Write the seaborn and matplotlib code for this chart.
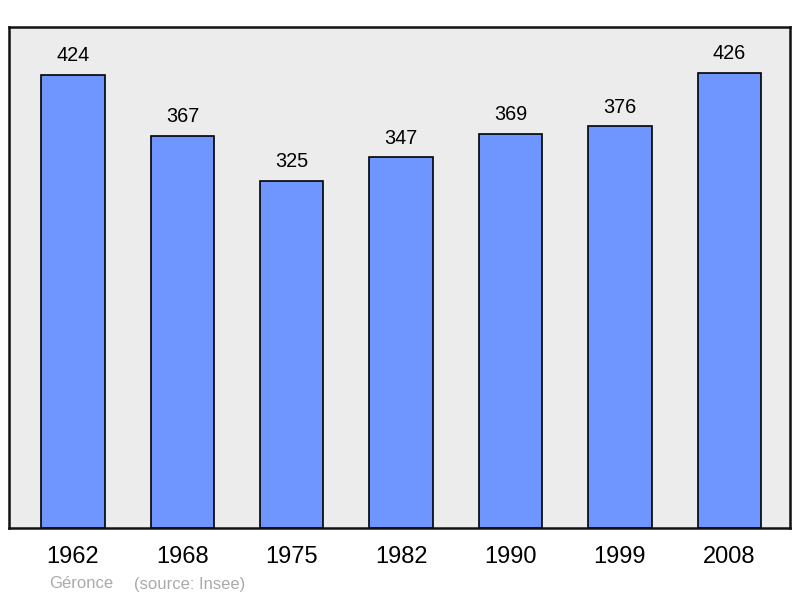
import matplotlib
matplotlib.use("Agg")
import matplotlib.pyplot as plt
import seaborn as sns
import pandas as pd

years = ["1962", "1968", "1975", "1982", "1990", "1999", "2008"]
population = [424, 367, 325, 347, 369, 376, 426]

df = pd.DataFrame({"year": years, "population": population})

sns.set_theme(style="white")
plt.rcParams["font.family"] = ["Liberation Sans", "DejaVu Sans"]

fig = plt.figure(figsize=(8, 5.98), dpi=100)
ax = fig.add_axes([9 / 800, 70 / 598, 781 / 800, 501 / 598])
ax.set_facecolor("#ececec")

sns.barplot(data=df, x="year", y="population", color="#6f96ff", saturation=1,
            edgecolor="black", linewidth=1.2, width=0.58, ax=ax)

for c in ax.containers:
    ax.bar_label(c, fmt="%d", padding=7, fontsize=14.3, color="black")

ax.set_xlim(-0.585, 6.555)
ax.set_ylim(0, 469)
ax.set_yticks([])
ax.set_xlabel("")
ax.set_ylabel("")
ax.tick_params(axis="x", length=0, pad=13, labelsize=17, colors="black")
for s in ax.spines.values():
    s.set_color("#111111")
    s.set_linewidth(1.8)

fig.text(49 / 800, 1 - 584 / 598, "Géronce", fontsize=12,
         color="#aaaaaa", va="center", ha="left")
fig.text(134 / 800, 1 - 584 / 598, "(source: Insee)", fontsize=12,
         color="#aaaaaa", va="center", ha="left")

fig.savefig("out.png", dpi=100)
